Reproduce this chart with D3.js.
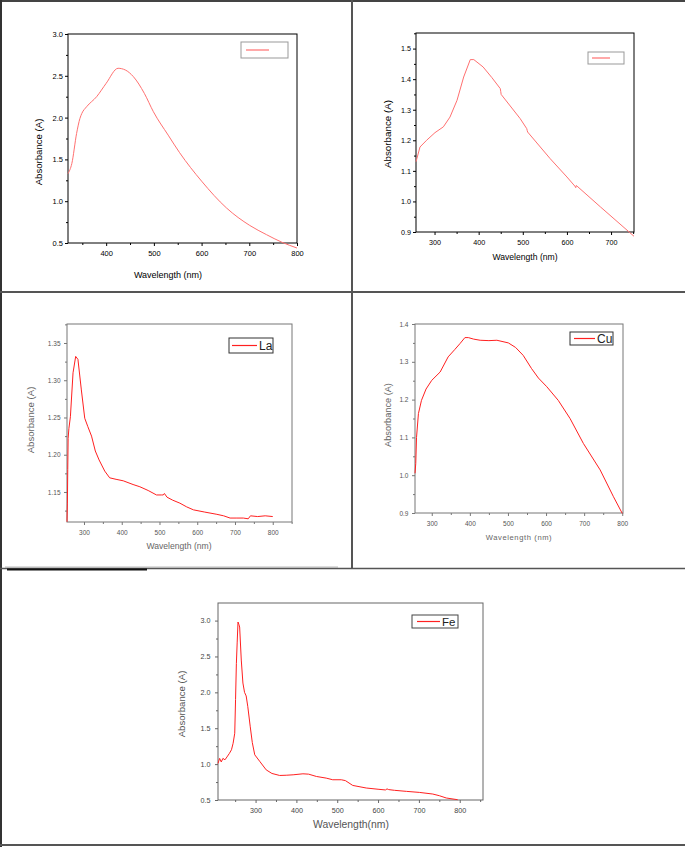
<!DOCTYPE html>
<html><head><meta charset="utf-8">
<script src="https://cdn.jsdelivr.net/npm/d3@7"></script>
<style>
html,body{margin:0;padding:0;background:#fff;}
svg{display:block;font-family:"Liberation Sans",Arial,sans-serif;}
</style></head>
<body>
<svg id="chart" width="685" height="847"></svg>
<script>
// ---------- DATA ----------
const p1Wavelength = [320,328,338,345,349,359,380,400,425,440,457,480,499,530,554,600,652,701,736,768,800];
const p1Absorbance = [1.33,1.45,1.81,1.99,2.05,2.13,2.25,2.41,2.59,2.57,2.49,2.29,2.07,1.79,1.58,1.24,0.92,0.71,0.60,0.51,0.44];

const p2Wavelength = [258,260,267,282,301,320,335,351,366,381,389,410,430,449,450,451,494,509,510,511,562,600,618,620,621,623,676,752];
const p2Absorbance = [1.13,1.14,1.178,1.20,1.225,1.244,1.276,1.331,1.407,1.464,1.464,1.440,1.405,1.369,1.36,1.35,1.271,1.238,1.232,1.227,1.14,1.08,1.05,1.045,1.052,1.05,0.982,0.886];

const laWavelength = [255,256,257,258,260,264,271,278,284,293,302,310,320,330,340,355,368,385,404,430,448,470,492,505,510,513,520,535,554,572,590,620,652,670,687,705,722,735,741,760,780,800];
const laAbsorbance = [1.11,1.134,1.18,1.222,1.235,1.251,1.310,1.332,1.328,1.287,1.249,1.238,1.225,1.205,1.193,1.178,1.169,1.167,1.165,1.160,1.157,1.152,1.146,1.146,1.146,1.148,1.143,1.139,1.135,1.130,1.126,1.123,1.120,1.118,1.115,1.115,1.115,1.114,1.118,1.117,1.118,1.117];

const cuWavelength = [256,258,260,265,273,285,300,322,343,360,374,387,396,410,427,450,471,501,520,540,562,580,602,632,663,698,742,777,800];
const cuAbsorbance = [1.005,1.031,1.10,1.163,1.198,1.228,1.251,1.273,1.313,1.332,1.348,1.364,1.364,1.36,1.357,1.356,1.357,1.350,1.338,1.317,1.282,1.257,1.234,1.198,1.150,1.084,1.014,0.943,0.899];

const feWavelength = [208,212,216,220,225,230,236,241,245,249,251,253,255,257,259,261,265,269,273,277,281,287,292,298,310,326,340,359,375,392,416,430,449,473,489,510,520,538,571,600,618,622,626,640,670,701,734,750,767,795];
const feAbsorbance = [1.01,1.08,1.03,1.08,1.06,1.10,1.15,1.20,1.29,1.43,1.90,2.40,2.70,2.98,2.95,2.91,2.45,2.13,2.00,1.95,1.80,1.52,1.30,1.13,1.04,0.92,0.87,0.842,0.845,0.851,0.865,0.86,0.828,0.805,0.782,0.782,0.77,0.703,0.667,0.65,0.64,0.655,0.645,0.635,0.62,0.606,0.583,0.56,0.528,0.504];

const p1XTicks = [400,500,600,700,800];
const p1YTicks = [0.5,1.0,1.5,2.0,2.5,3.0];
const p2XTicks = [300,400,500,600,700];
const p2YTicks = [0.9,1.0,1.1,1.2,1.3,1.4,1.5];
const laXTicks = [300,400,500,600,700,800];
const laYTicks = [1.15,1.20,1.25,1.30,1.35];
const cuXTicks = [300,400,500,600,700,800];
const cuYTicks = [0.9,1.0,1.1,1.2,1.3,1.4];
const feXTicks = [300,400,500,600,700,800];
const feYTicks = [0.5,1.0,1.5,2.0,2.5,3.0];

const legendLabels = ["", "", "La", "Cu", "Fe"];

// ---------- DRAW ----------
const svg = d3.select("#chart");

function panel(o) {
  const g = svg.append("g");
  const x = d3.scaleLinear().domain(o.xDomain).range([o.left, o.right]);
  const y = d3.scaleLinear().domain(o.yDomain).range([o.bottom, o.top]);

  // minor ticks
  const xMinor = d3.range(o.xMinor[0], o.xDomain[1] + 0.001, o.xMinor[1]).filter(v => v >= o.xDomain[0]);
  const yMinor = d3.range(o.yMinor[0], o.yDomain[1] + 1e-6, o.yMinor[1]).filter(v => v >= o.yDomain[0] - 1e-9);
  g.append("g").attr("transform", `translate(0,${o.bottom})`)
    .call(d3.axisBottom(x).tickValues(xMinor).tickSize(2).tickFormat(""))
    .call(s => s.select(".domain").remove())
    .call(s => s.selectAll("line").attr("stroke", o.axisColor));
  g.append("g").attr("transform", `translate(${o.left},0)`)
    .call(d3.axisLeft(y).tickValues(yMinor).tickSize(2).tickFormat(""))
    .call(s => s.select(".domain").remove())
    .call(s => s.selectAll("line").attr("stroke", o.axisColor));

  // major axes
  const xa = g.append("g").attr("transform", `translate(0,${o.bottom})`)
    .call(d3.axisBottom(x).tickValues(o.xTicks).tickSize(3).tickPadding(o.xPad).tickSizeOuter(0).tickFormat(d3.format("d")));
  const ya = g.append("g").attr("transform", `translate(${o.left},0)`)
    .call(d3.axisLeft(y).tickValues(o.yTicks).tickSize(3).tickPadding(o.yPad).tickSizeOuter(0).tickFormat(d3.format(o.yFmt)));
  [xa, ya].forEach(a => {
    a.selectAll(".domain").remove();
    a.selectAll("line").attr("stroke", o.axisColor);
    a.selectAll("text").attr("fill", o.labelColor).style("font-size", o.tickFont + "px")
      .style("font-family", '"Liberation Sans",Arial,sans-serif');
  });

  // frame
  g.append("rect").attr("x", o.left).attr("y", o.top)
    .attr("width", o.right - o.left).attr("height", o.bottom - o.top)
    .attr("fill", "none").attr("stroke", o.axisColor).attr("stroke-width", 1);

  // curve
  const line = d3.line().x((d, i) => x(o.xs[i])).y((d, i) => y(o.ys[i])).curve(o.curve || d3.curveLinear);
  g.append("path").datum(o.ys).attr("d", line)
    .attr("fill", "none").attr("stroke", o.color).attr("stroke-width", o.lineWidth || 1);

  // legend
  const L = o.legend;
  g.append("rect").attr("x", L.x).attr("y", L.y).attr("width", L.w).attr("height", L.h)
    .attr("fill", "#fff").attr("stroke", L.stroke).attr("stroke-width", 1);
  g.append("line").attr("x1", L.lx1).attr("x2", L.lx2).attr("y1", L.y + L.h / 2).attr("y2", L.y + L.h / 2)
    .attr("stroke", o.color).attr("stroke-width", 1.2);
  if (o.label) {
    g.append("text").attr("x", L.lx2 + 2).attr("y", L.y + L.h / 2 + L.fs * 0.36)
      .attr("fill", "#222").style("font-size", L.fs + "px").text(o.label);
  }

  // titles
  g.append("text").attr("text-anchor", "middle").attr("x", o.xTitle[0]).attr("y", o.xTitle[1])
    .attr("fill", o.titleColor).style("font-size", o.titleFont + "px")
    .style("letter-spacing", (o.xTitleSpacing || 0) + "px").text(o.xTitleText);
  g.append("text").attr("text-anchor", "middle")
    .attr("transform", `translate(${o.yTitle[0]},${o.yTitle[1]}) rotate(-90)`)
    .attr("dy", "0.35em")
    .attr("fill", o.titleColor).style("font-size", o.yTitleFont + "px").text("Absorbance (A)");
}

panel({
  xs: p1Wavelength, ys: p1Absorbance, xDomain: [320, 800], yDomain: [0.5, 3.0],
  left: 68, right: 297, top: 34, bottom: 243,
  xTicks: p1XTicks, yTicks: p1YTicks, xMinor: [350, 100], yMinor: [0.75, 0.5], yFmt: ".1f",
  xPad: 5, yPad: 2, tickFont: 7.5, axisColor: "#000", labelColor: "#000",
  color: "#ff7070", curve: d3.curveMonotoneX,
  legend: { x: 241, y: 42, w: 47, h: 16, lx1: 246, lx2: 269, stroke: "#999", fs: 11 },
  label: legendLabels[0],
  xTitle: [168, 278], xTitleText: "Wavelength (nm)", yTitle: [39, 152],
  titleColor: "#000", titleFont: 9, yTitleFont: 9.6
});

panel({
  xs: p2Wavelength, ys: p2Absorbance, xDomain: [258, 752], yDomain: [0.9, 1.551],
  left: 416, right: 634, top: 33, bottom: 232,
  xTicks: p2XTicks, yTicks: p2YTicks, xMinor: [350, 100], yMinor: [0.95, 0.1], yFmt: ".1f",
  xPad: 5, yPad: 2, tickFont: 7.2, axisColor: "#000", labelColor: "#000",
  color: "#ff7070",
  legend: { x: 588, y: 52, w: 36, h: 12, lx1: 592, lx2: 610, stroke: "#999", fs: 11 },
  label: legendLabels[1],
  xTitle: [525, 260], xTitleText: "Wavelength (nm)", yTitle: [388, 134],
  titleColor: "#000", titleFont: 8.6, yTitleFont: 9.8
});

panel({
  xs: laWavelength, ys: laAbsorbance, xDomain: [255, 851], yDomain: [1.1097, 1.3755],
  left: 67, right: 292, top: 324, bottom: 522,
  xTicks: laXTicks, yTicks: laYTicks, xMinor: [350, 100], yMinor: [1.125, 0.05], yFmt: ".2f",
  xPad: 5, yPad: 3.5, tickFont: 6.5, axisColor: "#777", labelColor: "#555",
  color: "#ff2020",
  legend: { x: 229, y: 338, w: 44, h: 15, lx1: 232, lx2: 257, stroke: "#333", fs: 12 },
  label: legendLabels[2],
  xTitle: [179, 549], xTitleText: "Wavelength (nm)", yTitle: [31, 420],
  titleColor: "#666", titleFont: 8.6, yTitleFont: 9.6
});

panel({
  xs: cuWavelength, ys: cuAbsorbance, xDomain: [256, 802], yDomain: [0.9, 1.4],
  left: 415, right: 623, top: 324, bottom: 513,
  xTicks: cuXTicks, yTicks: cuYTicks, xMinor: [350, 100], yMinor: [0.95, 0.1], yFmt: ".1f",
  xPad: 5, yPad: 3.5, tickFont: 6.5, axisColor: "#777", labelColor: "#555",
  color: "#ff2020",
  legend: { x: 570, y: 332, w: 43, h: 13, lx1: 574, lx2: 595, stroke: "#333", fs: 12 },
  label: legendLabels[3],
  xTitle: [519, 540], xTitleText: "Wavelength (nm)", xTitleSpacing: 0.6, yTitle: [388, 415],
  titleColor: "#666", titleFont: 7.6, yTitleFont: 9.2
});

panel({
  xs: feWavelength, ys: feAbsorbance, xDomain: [208, 857], yDomain: [0.5, 3.245],
  left: 218, right: 483, top: 603, bottom: 800,
  xTicks: feXTicks, yTicks: feYTicks, xMinor: [250, 100], yMinor: [0.75, 0.5], yFmt: ".1f",
  xPad: 4.5, yPad: 4.5, tickFont: 7.2, axisColor: "#666", labelColor: "#444",
  color: "#ff2020",
  legend: { x: 412, y: 615, w: 46, h: 13, lx1: 417, lx2: 440, stroke: "#444", fs: 11.5 },
  label: legendLabels[4],
  xTitle: [351, 828], xTitleText: "Wavelength(nm)", yTitle: [182, 704],
  titleColor: "#555", titleFont: 10.4, yTitleFont: 9.6
});

// ---------- TABLE BORDERS ----------
const b = svg.append("g");
b.append("line").attr("x1", 0).attr("x2", 685).attr("y1", 1).attr("y2", 1).attr("stroke", "#444").attr("stroke-width", 2);
b.append("line").attr("x1", 1).attr("x2", 1).attr("y1", 0).attr("y2", 847).attr("stroke", "#333").attr("stroke-width", 2);
b.append("line").attr("x1", 352).attr("x2", 352).attr("y1", 0).attr("y2", 568).attr("stroke", "#555").attr("stroke-width", 2);
b.append("line").attr("x1", 0).attr("x2", 685).attr("y1", 292).attr("y2", 292).attr("stroke", "#555").attr("stroke-width", 2);
b.append("line").attr("x1", 5).attr("x2", 338).attr("y1", 567).attr("y2", 567).attr("stroke", "#bbb").attr("stroke-width", 1);
b.append("line").attr("x1", 0).attr("x2", 685).attr("y1", 568.5).attr("y2", 568.5).attr("stroke", "#555").attr("stroke-width", 1.5);
b.append("line").attr("x1", 7).attr("x2", 147).attr("y1", 569.5).attr("y2", 569.5).attr("stroke", "#111").attr("stroke-width", 2);
b.append("line").attr("x1", 0).attr("x2", 685).attr("y1", 845).attr("y2", 845).attr("stroke", "#555").attr("stroke-width", 2);
</script>
</body></html>
